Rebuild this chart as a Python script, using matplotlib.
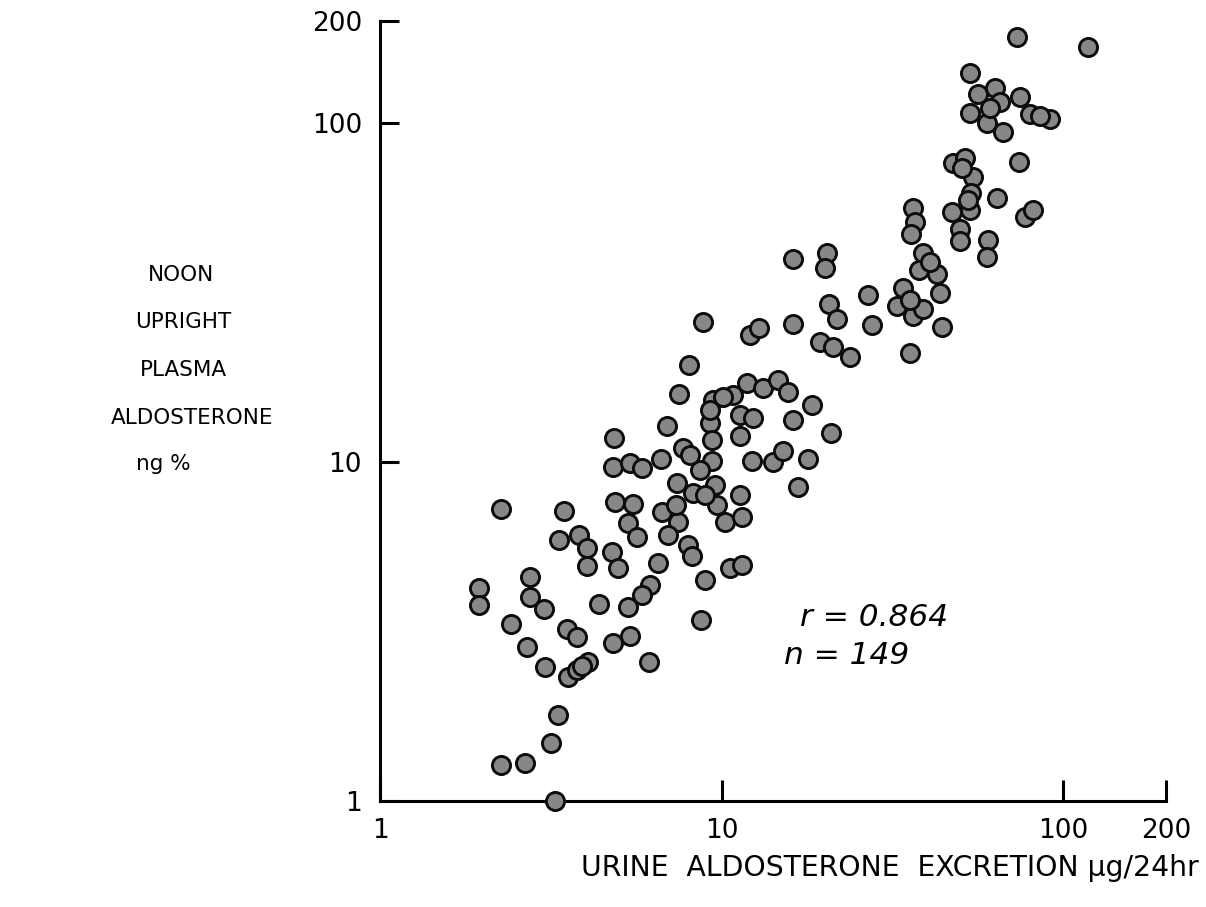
import matplotlib
matplotlib.use("Agg")
import matplotlib.pyplot as plt

# urine aldosterone excretion (ug/24hr) vs noon upright plasma aldosterone (ng %)
urine = [73.3, 118, 53.3, 56.3, 63.1, 53.3, 59.8, 65.3, 66.7, 74.8, 80.0, 91.5, 74.3,
         47.6, 51.6, 54.5, 53.7, 53.3, 47.2, 49.9, 49.9, 64.0, 77.3, 81.6, 60.3, 59.8,
         36.3, 36.8, 35.8, 38.9, 37.8, 42.7, 43.6, 34.0, 32.6, 36.3, 38.9, 44.2, 35.6,
         16.2, 20.4, 20.1, 26.8, 20.6, 21.8, 16.2, 27.5, 19.4, 21.2, 23.8, 8.82, 12.1, 12.9,
         8.03, 7.50, 6.92, 4.84, 4.81, 5.39, 5.85, 6.65, 9.44, 10.8, 11.9, 13.2, 14.6,
         15.6, 18.4, 11.3, 12.4, 11.3, 16.2, 9.25, 9.37, 9.37, 7.71, 7.40, 8.25, 9.57,
         8.65, 12.3, 14.1, 15.1, 17.9, 16.7, 11.3, 9.70, 20.9,
         4.88, 5.50, 5.32, 5.65, 6.69, 7.45, 6.97, 7.97, 8.19, 4.78, 4.97, 6.51, 10.2,
         11.5, 10.6, 11.5, 8.94, 6.17, 5.85, 8.71, 2.26, 3.46, 3.34, 3.83, 4.04, 4.04,
         2.75, 1.95, 1.95, 2.75, 3.02, 4.38, 5.32, 2.42, 3.53, 3.77, 4.81, 5.39, 2.69,
         3.04, 3.55, 3.77, 4.06, 6.13, 3.32, 3.17, 2.26, 2.66, 3.25,
         8.08, 8.94, 9.25, 3.90, 61.1, 85.5, 35.6, 40.7, 52.6, 7.36, 10.1, 50.6]

plasma = [179, 168, 140, 122, 127, 107, 100, 115, 94, 119, 106, 103, 76.7,
          76.2, 78.8, 69.3, 62.2, 55.4, 54.6, 48.7, 44.9, 60.1, 52.8, 55.4, 45.2, 40.3,
          56.1, 51.1, 47.1, 41.4, 36.8, 35.9, 31.5, 32.6, 28.8, 27.0, 28.3, 25.0, 21.0,
          39.7, 41.4, 37.3, 31.1, 29.2, 26.4, 25.5, 25.4, 22.6, 21.8, 20.4, 25.9, 23.7, 24.9,
          19.3, 15.9, 12.8, 11.8, 9.67, 9.93, 9.60, 10.2, 15.2, 15.8, 17.1, 16.5, 17.5,
          16.1, 14.7, 13.8, 13.5, 11.9, 13.3, 13.0, 11.6, 10.1, 11.0, 8.67, 8.11, 8.55,
          9.47, 10.1, 10.0, 10.8, 10.2, 8.44, 7.99, 7.47, 12.2,
          7.62, 7.52, 6.61, 6.01, 7.12, 6.65, 6.09, 5.69, 5.28, 5.43, 4.87, 5.04, 6.65,
          6.88, 4.87, 4.97, 4.49, 4.34, 4.05, 3.42, 7.27, 7.17, 5.89, 6.09, 5.58, 4.94,
          4.58, 4.25, 3.79, 4.00, 3.69, 3.81, 3.74, 3.33, 3.22, 3.05, 2.92, 3.07, 2.85,
          2.48, 2.32, 2.43, 2.57, 2.57, 1.79, 1.48, 1.28, 1.29, 1.00,
          10.5, 8.0, 14.2, 2.50, 111, 105, 30.1, 38.9, 59.3, 7.47, 15.6, 73.6]

tick_vals = [1, 10, 100, 200]
tick_labels = ["1", "10", "100", "200"]

ylabel_lines = ["NOON", "UPRIGHT", "PLASMA", "ALDOSTERONE", "ng %"]

fig = plt.figure(figsize=(12.06, 9.07), dpi=100)
ax = fig.add_axes([0.3151, 0.1169, 0.6517, 0.8600])

ax.scatter(urine, plasma, s=170, facecolor="#878787", edgecolor="#0d0d0d",
           linewidth=2.1, clip_on=False, zorder=3)

ax.set_xscale("log")
ax.set_yscale("log")
ax.set_xlim(1, 200)
ax.set_ylim(1, 200)

for side in ["top", "right"]:
    ax.spines[side].set_visible(False)
for side in ["left", "bottom"]:
    ax.spines[side].set_linewidth(2.2)

ax.minorticks_off()
ax.set_xticks(tick_vals)
ax.set_xticklabels(tick_labels)
ax.set_yticks(tick_vals)
ax.set_yticklabels(tick_labels)
ax.tick_params(axis="x", direction="in", length=15, width=2.2, pad=12, labelsize=19)
ax.tick_params(axis="y", direction="in", length=14, width=2.2, pad=13, labelsize=19)

ax.text(0.534, 0.235, "r = 0.864", transform=ax.transAxes, fontsize=22.5,
        style="italic", ha="left", va="center")
ax.text(0.514, 0.186, "n = 149", transform=ax.transAxes, fontsize=22.5,
        style="italic", ha="left", va="center")

fig.text(0.738, 0.043, "URINE  ALDOSTERONE  EXCRETION µg/24hr", fontsize=20.3,
         ha="center", va="center")

# stacked y-axis caption, one line at a time
ylabel_x = [181, 183, 183, 192, 163]
ylabel_y = [275, 322, 370, 418, 464]
for txt, px, py in zip(ylabel_lines, ylabel_x, ylabel_y):
    fig.text(px / 1206, 1 - py / 907, txt, fontsize=15.5, ha="center", va="center")

fig.savefig("out.png", dpi=100, facecolor="white")
